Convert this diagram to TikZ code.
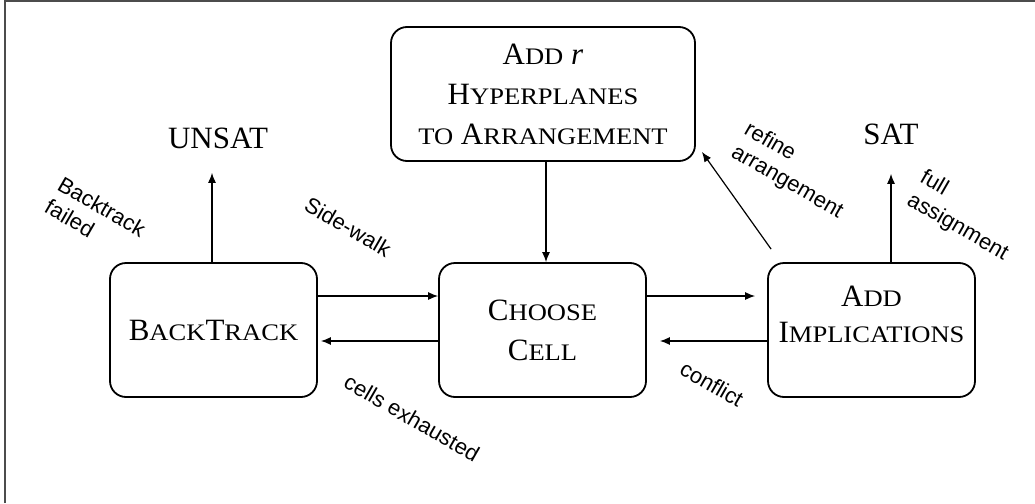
\documentclass[tikz,border=0pt]{standalone}
\usepackage{fontspec}
\setmainfont{Liberation Serif}
\newfontfamily\labelfont{Liberation Sans}
\newfontfamily\scfont[FakeStretch=1.12]{Liberation Serif}
\usepackage{tikz}
\usetikzlibrary{%
        arrows.meta,
        positioning,
    }
\newcommand{\smallsz}{\scfont\fontsize{23.7}{40}\selectfont}
\newcommand{\fakesc}[2]{#1{\smallsz #2}}
\tikzset{%
    stepbox/.style={%
        draw,
        line width=1.8pt,
        rounded corners=16pt,
        minimum width=207pt,
        minimum height=134pt,
        align=center,
        font=\fontsize{31}{40}\selectfont,
    },
    outcome/.style={%
        anchor=base,
        font=\fontsize{31}{40}\selectfont,
    },
    edgelabel/.style={%
        rotate=-30,
        align=left,
        font=\labelfont\fontsize{22}{26}\selectfont,
    },
    arr/.style={%
        line width=1.2pt,
        -{Latex[length=10pt, width=8pt]},
    },
}

\begin{document}
\begin{tikzpicture}[x=1pt, y=-1pt]

    \useasboundingbox (0, 0) rectangle (1035, 503);
    \draw[line width=2pt, black!70] (5, 503) -- (5, 1) -- (1035, 1);

    %%%%%%%%%
    % Steps %
    %%%%%%%%%
    \node[stepbox] (backtrack) at (213.5, 330) {\fakesc{B}{ACK}\fakesc{T}{RACK}};
    \node[stepbox] (choose) at (542.5, 330) {%
        \fakesc{C}{HOOSE}\\
        \fakesc{C}{ELL}
    };
    \node[stepbox] (implications) at (871.5, 330) {%
        \fakesc{A}{DD}\\[-4pt]
        \fakesc{I}{MPLICATIONS}\\[-8pt]
        \mbox{}
    };
    \node[stepbox, minimum width=304pt] (hyperplanes) at (543, 94) {%
        \fakesc{A}{DD} \textit{r}\\
        \fakesc{H}{YPERPLANES}\\
        {\smallsz TO} \fakesc{A}{RRANGEMENT}
    };

    % Outcomes
    \node[outcome] (unsat) at (218, 148) {UNSAT};
    \node[outcome] (sat) at (891, 144) {SAT};

    %%%%%%%%%%
    % Arrows %
    %%%%%%%%%%
    \draw[arr, shorten >=21pt]
        ([xshift=-1.5pt] backtrack.north)
        -- ([xshift=-1.5pt] backtrack.north |- unsat.south);
    \draw[arr, shorten >=26pt]
        ([xshift=19.5pt] implications.north)
        -- ([xshift=19.5pt] implications.north |- sat.south);

    \draw[arr] ([yshift=34pt] backtrack.east) -- ([yshift=34pt] choose.west);
    \draw[arr, shorten >=3pt]
        ([yshift=-11pt] choose.west) -- ([yshift=-11pt] backtrack.east);
    \draw[arr, shorten >=12pt]
        ([yshift=34pt] choose.east) -- ([yshift=34pt] implications.west);
    \draw[arr, shorten >=13pt]
        ([yshift=-11pt] implications.west) -- ([yshift=-11pt] choose.east);

    \draw[arr] ([xshift=3pt] hyperplanes.south)
        -- ([xshift=3pt] hyperplanes.south |- choose.north);
    \draw[arr]
        ([shift={(4pt, 13pt)}] implications.north west)
        -- ([shift={(6pt, 10pt)}] hyperplanes.south east);

    % Labels
    \node[edgelabel] (failed) at (95.5, 218) {Backtrack\\failed};
    \node[edgelabel] (sidewalk) at (348, 227) {Side-walk};
    \node[edgelabel] (exhausted) at (412, 418) {cells exhausted};
    \node[edgelabel] (conflict) at (712, 384) {conflict};
    \node[edgelabel] (refine) at (793.5, 171) {refine\\arrangement};
    \node[edgelabel] (full) at (964, 216) {full\\assignment};

\end{tikzpicture}
\end{document}
